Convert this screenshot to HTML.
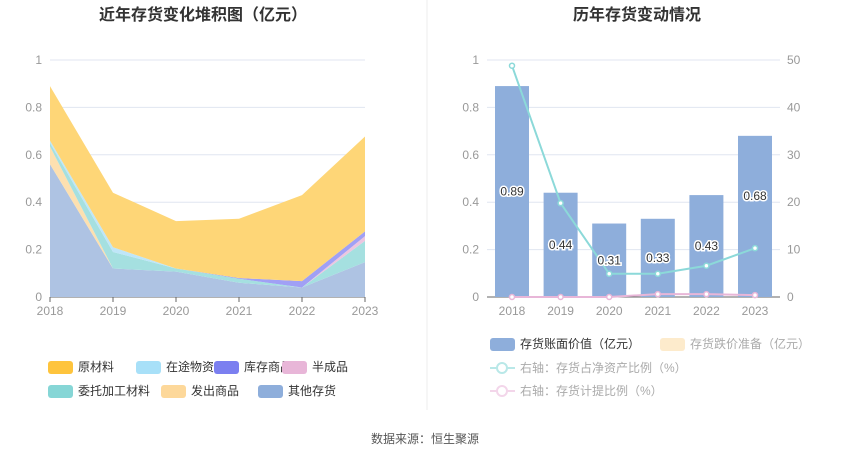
<!DOCTYPE html>
<html><head><meta charset="utf-8"><style>
body{margin:0;background:#fff;font-family:"Liberation Sans","Noto Sans CJK SC",sans-serif;}
svg text{font-family:"Liberation Sans","Noto Sans CJK SC",sans-serif;}
</style></head><body>
<svg id="c" width="850" height="459" xmlns="http://www.w3.org/2000/svg">
<text x="203" y="20" text-anchor="middle" font-size="16" font-weight="bold" fill="#333">近年存货变化堆积图（亿元）</text>
<text x="637" y="20" text-anchor="middle" font-size="16" font-weight="bold" fill="#333">历年存货变动情况</text>
<line x1="427" y1="0" x2="427" y2="410" stroke="#eee"/>
<text x="425" y="443" text-anchor="middle" font-size="12" fill="#555">数据来源：恒生聚源</text>
<g id="L"></g>
<g id="R"></g>
<g id="LG"></g>
</svg>
<script>
const years=["2018","2019","2020","2021","2022","2023"];
const leftTicks=[0,0.2,0.4,0.6,0.8,1];
const rightTicks=[0,10,20,30,40,50];
const sOther=[0.56,0.12,0.107,0.06,0.04,0.147];
const sShipped=[0.075,0,0,0,0,0];
const sConsign=[0.015,0.07,0.013,0.017,0,0.09];
const sSemi=[0,0,0,0,0,0.02];
const sStock=[0,0,0,0.003,0.027,0.02];
const sTransit=[0.01,0.02,0,0,0,0];
const sRaw=[0.23,0.23,0.2,0.25,0.363,0.40];
const bookValue=[0.89,0.44,0.31,0.33,0.43,0.68];
const ratioNet=[48.8,19.8,4.9,4.9,6.6,10.3];
const ratioProv=[0,0,0,0.6,0.6,0.4];
const NS="http://www.w3.org/2000/svg";
function mk(p,t,a){const e=document.createElementNS(NS,t);for(const k in a)e.setAttribute(k,a[k]);p.appendChild(e);return e;}
const y0=297,y1=60;
const yL=v=>y0-(v/1)*(y0-y1);
const yR=v=>y0-(v/50)*(y0-y1);
// left
const L=document.getElementById('L');
const xL=i=>50+i*63;
leftTicks.forEach(t=>{
 const g=mk(L,'line',{x1:50,x2:365,y1:yL(t),y2:yL(t),stroke:t===0?'#666':'#e0e6f1'});
 
 
 const tx=mk(L,'text',{x:42,y:yL(t)+4,'text-anchor':'end','font-size':12,fill:'#999'});tx.textContent=String(t);
 
 
});
years.forEach((y,i)=>{
 const tx=mk(L,'text',{x:xL(i),y:315,'text-anchor':'middle','font-size':12,fill:'#999'});tx.textContent=y;
 
 
 mk(L,'line',{x1:xL(i),x2:xL(i),y1:297,y2:302,stroke:'#666'});
});
const series=[[sOther,'#aec3e3','area-other'],[sShipped,'#fde0b0','area-shipped'],[sConsign,'#a5e0e0','area-consign'],[sSemi,'#ecc6e0','area-semi'],[sStock,'#a0a0f5','area-stock'],[sTransit,'#bfe6f8','area-transit'],[sRaw,'#fed677','area-raw']];
let cum=[0,0,0,0,0,0];
series.forEach(([d,c,n])=>{
 const top=cum.map((v,i)=>v+d[i]);
 let pts=top.map((v,i)=>xL(i)+','+yL(v)).join(' ')+' '+cum.map((v,i)=>xL(i)+','+yL(v)).reverse().join(' ');
 const p=mk(L,'polygon',{points:pts,fill:c});
 
 
 cum=top;
});
// right
const R=document.getElementById('R');
const xR=i=>512+i*48.6;
leftTicks.forEach((t,k)=>{
 const g=mk(R,'line',{x1:487,x2:780,y1:yL(t),y2:yL(t),stroke:t===0?'#666':'#e0e6f1'});
 
 
 const tx=mk(R,'text',{x:479,y:yL(t)+4,'text-anchor':'end','font-size':12,fill:'#999'});tx.textContent=String(t);
 
 
 const t2=mk(R,'text',{x:787,y:yR(rightTicks[k])+4,'font-size':12,fill:'#999'});t2.textContent=String(rightTicks[k]);
 
 
});
years.forEach((y,i)=>{
 const tx=mk(R,'text',{x:xR(i),y:315,'text-anchor':'middle','font-size':12,fill:'#999'});tx.textContent=y;
 
 
 const b=mk(R,'rect',{x:xR(i)-17,y:yL(bookValue[i]),width:34,height:y0-yL(bookValue[i]),fill:'#8eaedb'});
 
 
});
function line(d,c,n){
 const pl=mk(R,'polyline',{points:d.map((v,i)=>xR(i)+','+yR(v)).join(' '),fill:'none',stroke:c,'stroke-width':2});
 
 
 d.forEach((v,i)=>{const p=mk(R,'circle',{cx:xR(i),cy:yR(v),r:2.5,fill:'#fff',stroke:c,'stroke-width':1.5});
  
  });
}
line(ratioNet,'#8cd9d9','line-net-asset-ratio');
line(ratioProv,'#e8b6d8','line-provision-ratio');
bookValue.forEach((v,i)=>{
 const ly=(yL(v)+y0)/2+4;
 const tx=mk(R,'text',{x:xR(i),y:i===5?yL(v)+64:ly,'text-anchor':'middle','font-size':12,fill:'#333',stroke:'#fff','stroke-width':3,'paint-order':'stroke'});
 tx.textContent=v.toFixed(2);
 
 
});
// legends
const LG=document.getElementById('LG');
const leg=[['原材料','#fec43d',48,367],['在途物资','#a8e0f8',136,367],['库存商品','#7b7ff0',214,367],['半成品','#e8b6d8',282,367],['委托加工材料','#86d6d6',48,391],['发出商品','#fdd89a',161,391],['其他存货','#8eaedb',258,391]];
leg.forEach(([t,c,x,y])=>{
 const r=mk(LG,'rect',{x:x,y:y-6,width:25,height:13,rx:3,fill:c});
 
 
 const tx=mk(LG,'text',{x:x+30,y:y+4,'font-size':12,fill:'#333'});tx.textContent=t;
 
 
});
const rl=[['存货账面价值（亿元）','#8eaedb',490,344,'#333'],['存货跌价准备（亿元）','#fdebcc',660,344,'#aaa']];
rl.forEach(([t,c,x,y,tc])=>{
 const r=mk(LG,'rect',{x:x,y:y-6,width:25,height:13,rx:3,fill:c});
 
 
 const tx=mk(LG,'text',{x:x+30,y:y+4,'font-size':12,fill:tc});tx.textContent=t;
 
 
});
[['右轴：存货占净资产比例（%）','#b9e8e8',368],['右轴：存货计提比例（%）','#f3d6ea',391]].forEach(([t,c,y])=>{
 mk(LG,'line',{x1:490,x2:515,y1:y,y2:y,stroke:c,'stroke-width':2});
 const ci=mk(LG,'circle',{cx:502,cy:y,r:5,fill:'#fff',stroke:c,'stroke-width':2});
 
 
 const tx=mk(LG,'text',{x:520,y:y+4,'font-size':12,fill:'#aaa'});tx.textContent=t;
 
 
});
</script>
</body></html>
